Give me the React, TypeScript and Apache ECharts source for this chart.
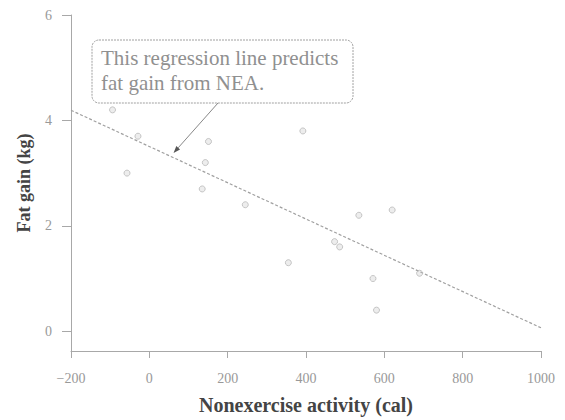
import React, { useEffect, useRef } from "react";
import * as echarts from "echarts";

const neaValues = [-94, -57, -29, 135, 143, 151, 245, 355, 392, 473, 486, 535, 571, 580, 620, 690];
const fatGainValues = [4.2, 3.0, 3.7, 2.7, 3.2, 3.6, 2.4, 1.3, 3.8, 1.7, 1.6, 2.2, 1.0, 0.4, 2.3, 1.1];
const regressionX = [-200, 1000];
const regressionIntercept = 3.505;
const regressionSlope = -0.00344;
const yTickValues = [0, 2, 4, 6];
const annotationLines = ["This regression line predicts", "fat gain from NEA."];
const arrowTargetX = 58;

const SERIF = "'Liberation Serif', 'DejaVu Serif', serif";

export default function App() {
  const ref = useRef<HTMLDivElement>(null);
  useEffect(() => {
    document.body.style.margin = "0";
    if (!ref.current) return;
    const chart = echarts.init(ref.current, undefined, { renderer: "svg" });
    const points = neaValues.map((x, i) => [x, fatGainValues[i]]);
    const line = regressionX.map((x) => [x, regressionIntercept + regressionSlope * x]);
    const axisGray = "#a8a8a8";
    const fmt = (v: number) => (v < 0 ? "\u2212" + String(-v) : String(v));
    chart.setOption({
      animation: false,
      backgroundColor: "#fff",
      grid: { left: 71, right: 24, top: 15, bottom: 66 },
      xAxis: {
        type: "value",
        min: -200,
        max: 1000,
        interval: 200,
        name: "Nonexercise activity (cal)",
        nameLocation: "middle",
        nameGap: 44,
        nameTextStyle: { fontFamily: SERIF, fontSize: 20, fontWeight: "bold", color: "#444" },
        axisLine: { show: true, onZero: false, lineStyle: { color: axisGray, width: 1 } },
        axisTick: { show: true, length: 7, lineStyle: { color: axisGray } },
        axisLabel: { fontFamily: SERIF, fontSize: 14, color: "#999", margin: 20, formatter: fmt },
        splitLine: { show: false },
      },
      yAxis: {
        type: "value",
        min: -0.375,
        max: 6,
        name: "Fat gain (kg)",
        nameLocation: "middle",
        nameGap: 38,
        nameTextStyle: { fontFamily: SERIF, fontSize: 18, fontWeight: "bold", color: "#444" },
        axisLine: { show: true, onZero: false, lineStyle: { color: axisGray, width: 1 } },
        axisTick: { show: true, length: 9, customValues: yTickValues, lineStyle: { color: axisGray } },
        axisLabel: { fontFamily: SERIF, fontSize: 14, color: "#999", margin: 19, customValues: yTickValues, formatter: fmt },
        splitLine: { show: false },
      },
      series: [
        {
          type: "line",
          data: line,
          symbol: "none",
          lineStyle: { color: "#a0a0a0", width: 1.2, type: [3, 2] },
          z: 2,
        },
        {
          type: "scatter",
          data: points,
          symbol: "circle",
          symbolSize: 6,
          itemStyle: { color: "rgba(200,200,200,0.4)", borderColor: "#b8b8b8", borderWidth: 1 },
          z: 3,
        },
      ],
    });
    const tip = chart.convertToPixel({ gridIndex: 0 }, [
      arrowTargetX,
      regressionIntercept + regressionSlope * arrowTargetX,
    ]) as number[];
    const start = [218, 103];
    const tx = tip[0] + 1.5;
    const ty = tip[1] - 4;
    const dx = tx - start[0];
    const dy = ty - start[1];
    const len = Math.sqrt(dx * dx + dy * dy);
    const ux = dx / len;
    const uy = dy / len;
    const ah = 7;
    const aw = 2.5;
    const bx = tx - ux * ah;
    const by = ty - uy * ah;
    chart.setOption({
      graphic: [
        {
          type: "rect",
          shape: { x: 92, y: 40, width: 261, height: 63, r: 7 },
          style: { fill: "#fff", stroke: "#a0a0a0", lineWidth: 1, lineDash: [2, 1] },
          z: 10,
        },
        {
          type: "text",
          x: 101,
          y: 45,
          style: {
            text: annotationLines.join("\n"),
            fontFamily: SERIF,
            fontSize: 21,
            lineHeight: 25,
            fill: "#909090",
          },
          z: 11,
        },
        {
          type: "line",
          shape: { x1: start[0], y1: start[1], x2: bx, y2: by },
          style: { stroke: "#888", lineWidth: 1 },
          z: 10,
        },
        {
          type: "polygon",
          shape: {
            points: [
              [tx, ty],
              [bx - uy * aw, by + ux * aw],
              [bx + uy * aw, by - ux * aw],
            ],
          },
          style: { fill: "#555" },
          z: 10,
        },
      ],
    });
    return () => chart.dispose();
  }, []);
  return <div ref={ref} style={{ width: 565, height: 420 }} />;
}
